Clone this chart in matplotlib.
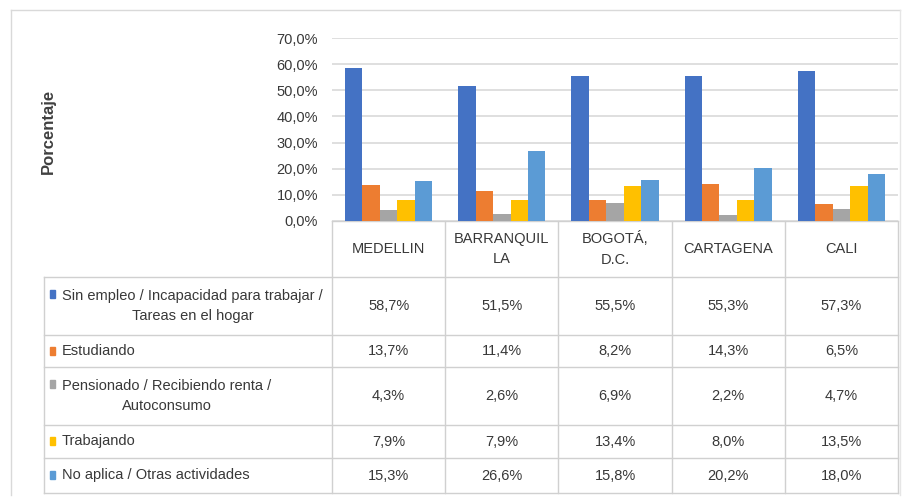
import matplotlib.pyplot as plt
import numpy as np
from matplotlib.patches import Rectangle

ciudades = ["MEDELLIN", "BARRANQUIL\nLA", "BOGOTÁ,\nD.C.", "CARTAGENA", "CALI"]
categorias = [
    "Sin empleo / Incapacidad para trabajar /\nTareas en el hogar",
    "Estudiando",
    "Pensionado / Recibiendo renta /\nAutoconsumo",
    "Trabajando",
    "No aplica / Otras actividades",
]
sin_empleo = [58.7, 51.5, 55.5, 55.3, 57.3]
estudiando = [13.7, 11.4, 8.2, 14.3, 6.5]
pensionado = [4.3, 2.6, 6.9, 2.2, 4.7]
trabajando = [7.9, 7.9, 13.4, 8.0, 13.5]
no_aplica = [15.3, 26.6, 15.8, 20.2, 18.0]
series = [sin_empleo, estudiando, pensionado, trabajando, no_aplica]
colores = ["#4472C4", "#ED7D31", "#A5A5A5", "#FFC000", "#5B9BD5"]
yticks = [0, 10, 20, 30, 40, 50, 60, 70]

plt.rcParams["font.family"] = ["Liberation Sans", "DejaVu Sans"]
W, H = 910, 503
GRID = "#D9D9D9"
LINEA = "#D0D0D0"
TXT = "#383838"
FS = 10.5

# geometria en pixeles
x0, x1 = 332, 898
y_top, y_cero = 38, 221
filas = [277, 335, 367, 425, 458, 493]
x_leyenda = 44

fig = plt.figure(figsize=(W / 100, H / 100), dpi=100)

# capa para la tabla y el marco
base = fig.add_axes([0, 0, 1, 1])
base.set_xlim(0, W)
base.set_ylim(H, 0)
base.axis("off")

# grafico de barras
ax = fig.add_axes([x0 / W, (H - y_cero) / H, (x1 - x0) / W, (y_cero - y_top) / H])
n = len(ciudades)
ancho = 1 / 6.5
x = np.arange(n)
for i, (vals, c) in enumerate(zip(series, colores)):
    ax.bar(x + (i - 2) * ancho, vals, ancho, color=c, zorder=3)
ax.set_xlim(-0.5, n - 0.5)
ax.set_ylim(0, 70)
ax.set_yticks(yticks)
ax.set_yticklabels([f"{v:.1f}%".replace(".", ",") for v in yticks], fontsize=FS, color=TXT)
ax.tick_params(axis="y", length=0, pad=10)
ax.set_xticks([])
ax.grid(axis="y", color=GRID, lw=1.2, zorder=0)
for s in ax.spines.values():
    s.set_visible(False)
ax.patch.set_alpha(0)

fig.text(48 / W, 1 - 131 / H, "Porcentaje", rotation=90, ha="center", va="center",
         fontsize=12, fontweight="bold", color="#404040")

# marco exterior
base.plot([11, 900], [10, 10], color="#D9D9D9", lw=1)
base.plot([11, 11], [10, 495], color="#D9D9D9", lw=1)
base.plot([900, 900], [10, 495], color="#E6E6E6", lw=1)

# tabla de datos
col_w = (x1 - x0) / n
bordes = [x0 + k * col_w for k in range(n + 1)]
base.plot([x0, x1], [y_cero, y_cero], color=LINEA, lw=1)
for bx in bordes:
    base.plot([bx, bx], [y_cero, filas[-1]], color=LINEA, lw=1)
base.plot([x_leyenda, x_leyenda], [filas[0], filas[-1]], color=LINEA, lw=1)
for fy in filas:
    base.plot([x_leyenda, x1], [fy, fy], color=LINEA, lw=1)

for j, nombre in enumerate(ciudades):
    cx = (bordes[j] + bordes[j + 1]) / 2
    base.text(cx, (y_cero + filas[0]) / 2, nombre, ha="center", va="center",
              fontsize=FS, color=TXT, linespacing=1.6, multialignment="center")

for i, (cat, vals, c) in enumerate(zip(categorias, series, colores)):
    ya, yb = filas[i], filas[i + 1]
    cy = (ya + yb) / 2
    base.text(62, cy, cat, ha="left", va="center", fontsize=FS, color=TXT,
              linespacing=1.6, multialignment="center")
    nlin = cat.count("\n") + 1
    ky = cy - (nlin - 1) * 12
    base.add_patch(Rectangle((50, ky - 4.5), 5, 8, color=c))
    for j, v in enumerate(vals):
        cx = (bordes[j] + bordes[j + 1]) / 2
        base.text(cx, cy, f"{v:.1f}%".replace(".", ","), ha="center", va="center",
                  fontsize=FS, color=TXT)

fig.savefig("out.png", dpi=100)
